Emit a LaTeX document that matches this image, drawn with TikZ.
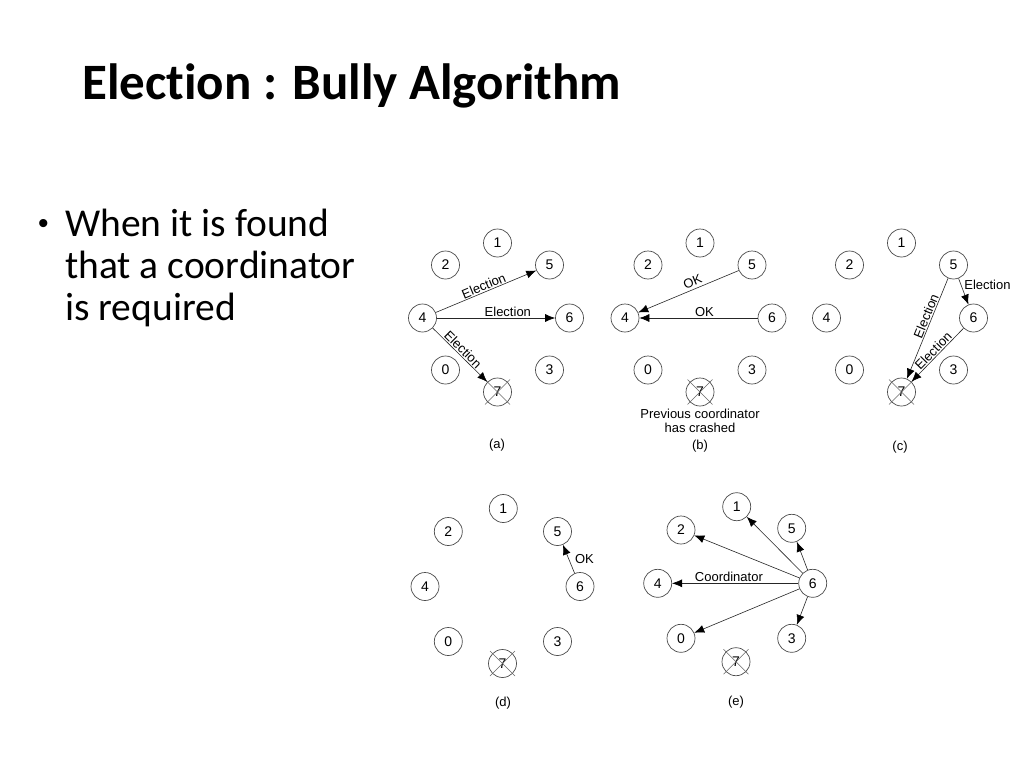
\documentclass[tikz,border=0pt]{standalone}
\usepackage{fontspec}
\setmainfont{Carlito}[Ligatures={NoCommon}]
\newfontfamily\arial{Liberation Sans}
\usetikzlibrary{arrows.meta}
\newcommand\crashX[1]{%
  \draw[xline] ([shift={(-12.5,-12.5)}]#1.center) -- ([shift={(12.5,12.5)}]#1.center);
  \draw[xline] ([shift={(-12.5,12.5)}]#1.center) -- ([shift={(12.5,-12.5)}]#1.center);}
\newcommand\ringABC[1]{%
  \node[proc] (#1-1) at (0,0) {1};
  \node[proc] (#1-2) at (-52,22) {2};
  \node[proc] (#1-5) at (52,22) {5};
  \node[proc] (#1-4) at (-75,75) {4};
  \node[proc] (#1-6) at (72,75) {6};
  \node[proc] (#1-0) at (-52,127) {0};
  \node[proc] (#1-3) at (52,127) {3};
  \node[proc] (#1-7) at (0,149) {7};}
\begin{document}
\begin{tikzpicture}[x=1pt,y=-1pt,
  proc/.style={circle,draw=black!70,line width=0.7pt,minimum size=28pt,inner sep=0pt,font=\arial\fontsize{14}{16}\selectfont},
  msg/.style={draw=black!85,line width=0.6pt,-{Latex[length=10pt,width=8pt,color=black]}},
  lbl/.style={font=\arial\fontsize{13}{15}\selectfont,inner sep=1pt},
  xline/.style={draw=black!60,line width=0.5pt},
  capt/.style={font=\arial\fontsize{13}{15}\selectfont,inner sep=0pt},
  title/.style={font=\fontsize{51}{60}\selectfont\bfseries,inner sep=0pt,anchor=base west},
  body/.style={font=\fontsize{39.5}{44}\selectfont,inner sep=0pt,anchor=base west}]
\useasboundingbox[fill=white] (0,0) rectangle (1024,768);

% title and bullet
\node[title] (ttl) at (82,99) {Election : Bully Algorithm};
\node[body,font=\arial\fontsize{30}{30}\selectfont] (bul) at (38,233) {\textbullet};
\node[body] (l1) at (65,236) {When it is found};
\node[body] (l2) at (65,278) {that a coordinator};
\node[body] (l3) at (65,320) {is required};

% panel (a)
\begin{scope}[shift={(497.5,243)}]\ringABC{a}\end{scope}
\crashX{a-7}
\draw[msg] (a-4) -- node[lbl,sloped,above]{Election} (a-5);
\draw[msg] (a-4) -- node[lbl,above,pos=0.6]{Election} (a-6);
\draw[msg] (a-4) -- node[lbl,sloped,above,pos=0.48]{Election} (a-7);
\node[capt] (capa) at (497,445) {(a)};

% panel (b)
\begin{scope}[shift={(700,243)}]\ringABC{b}\end{scope}
\crashX{b-7}
\draw[msg] (b-5) -- node[lbl,sloped,above,pos=0.43,yshift=2pt]{OK} (b-4);
\draw[msg] (b-6) -- node[lbl,above,pos=0.45]{OK} (b-4);
\node[capt,align=center] (note) at (700,421) {Previous coordinator\\[-1.5pt]has crashed};
\node[capt] (capb) at (700,446) {(b)};

% panel (c)
\begin{scope}[shift={(901.5,243)}]\ringABC{c}\end{scope}
\crashX{c-7}
\draw[msg] (c-5) -- node[lbl,sloped,above,pos=0.4]{Election} (c-7);
\draw[msg] (c-6) -- node[lbl,sloped,above]{Election} (c-7);
\draw[msg] (c-5) -- node[lbl,right,pos=0.25,xshift=2pt]{Election} (c-6);
\node[capt] (capc) at (900,447) {(c)};

% panel (d)
\node[proc] (d-1) at (503.3,508.5) {1};
\node[proc] (d-2) at (448.3,531.5) {2};
\node[proc] (d-5) at (557.5,531.5) {5};
\node[proc] (d-4) at (425,586.5) {4};
\node[proc] (d-6) at (580,586.5) {6};
\node[proc] (d-0) at (448.3,641.5) {0};
\node[proc] (d-3) at (557.5,641.5) {3};
\node[proc] (d-7) at (502.5,663.5) {7};
\crashX{d-7}
\draw[msg] (d-6) -- node[lbl,right,xshift=5pt]{OK} (d-5);
\node[capt] (capd) at (503,703) {(d)};

% panel (e)
\node[proc] (e-1) at (736.7,506.7) {1};
\node[proc] (e-2) at (681,530) {2};
\node[proc] (e-5) at (791.7,528.3) {5};
\node[proc] (e-4) at (657.7,583.3) {4};
\node[proc] (e-6) at (812.7,583.3) {6};
\node[proc] (e-0) at (681,638.3) {0};
\node[proc] (e-3) at (791.7,638.3) {3};
\node[proc] (e-7) at (736,661.7) {7};
\crashX{e-7}
\draw[msg] (e-6) -- (e-1);
\draw[msg] (e-6) -- (e-2);
\draw[msg] (e-6) -- (e-5);
\draw[msg] (e-6) -- node[lbl,above,pos=0.55]{Coordinator} (e-4);
\draw[msg] (e-6) -- (e-0);
\draw[msg] (e-6) -- (e-3);
\node[capt] (cape) at (736,702) {(e)};
\end{tikzpicture}
\end{document}
